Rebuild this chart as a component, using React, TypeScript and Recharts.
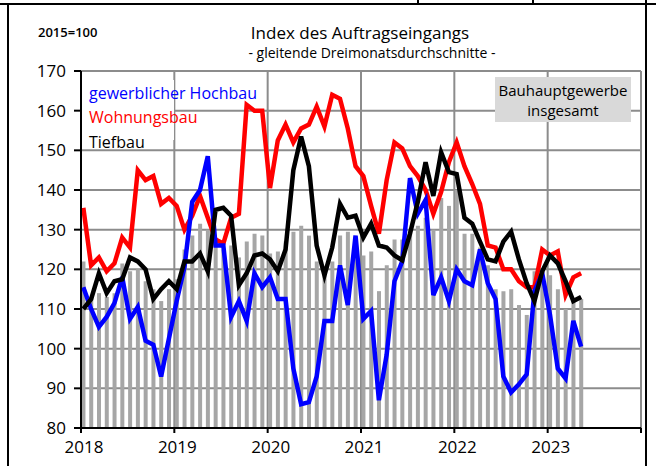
import React from "react";
import {
  ComposedChart,
  Bar,
  Line,
  XAxis,
  YAxis,
  CartesianGrid,
} from "recharts";

// Monatswerte Jan 2018 – Mai 2023, 2015=100
const yearLabels = ["2018", "2019", "2020", "2021", "2022", "2023", ""];

const insgesamt = [
  122, 113, 114, 113, 114, 121.5, 119.5, 120, 117, 115, 112, 115,
  117.5, 125, 128.5, 131.5, 130, 127.5, 125, 126, 123, 127, 129, 128.5,
  124, 124.5, 127, 129.5, 131, 128.5, 122, 120, 122, 128.5, 129.5, 128,
  123.5, 124.5, 114.5, 121, 127.5, 127.5, 130, 131, 133, 130, 138, 136,
  140, 129, 129, 125.5, 121, 115, 114.5, 115, 111, 108.5, 119.5, 120,
  118.5, 115, 110, 112, 112.5,
];

const gewHochbau = [
  115.5, 110, 105.5, 108, 111.5, 118, 107.5, 110.5, 102, 101, 93, 102.5,
  112, 120.5, 137, 140, 148.5, 126, 126, 108, 112, 107, 119, 115.5,
  118, 112.5, 112.5, 95, 86, 86.5, 93, 107, 107, 121, 111, 128.5,
  107.5, 109.5, 87, 98.5, 117, 122, 143, 134, 137.5, 113.5, 118, 112,
  120, 117, 116, 125, 116.5, 112.5, 93, 89, 91, 93.5, 114.5, 119,
  108.5, 95, 92.5, 107, 100.5,
];

const wohnungsbau = [
  135.5, 121, 123, 119.5, 121.5, 128, 125.5, 145, 142.5, 143.5, 136.5, 138,
  136, 130, 133.5, 138.5, 133, 127.5, 126.5, 133, 134, 161.5, 160, 160,
  140.5, 152.5, 156.5, 152, 155.5, 156.5, 161, 156, 164, 163, 155.5, 146,
  143.5, 136, 129, 142.5, 152, 150.5, 146, 143.5, 140, 134, 139.5, 147,
  152, 146, 141.5, 136.5, 126, 125.5, 120, 120, 117, 115.5, 115.5, 125,
  123.5, 124.5, 113.5, 118, 119,
];

const tiefbau = [
  110, 112.5, 119, 114, 117, 117.5, 123, 122, 120, 112.5, 115, 117,
  115, 122, 122, 124, 119.5, 135, 135.5, 133.5, 116, 119, 123.5, 124,
  122.5, 119.5, 125, 145, 153.5, 146, 126, 118.5, 125.5, 136.5, 133, 133.5,
  128, 131.5, 126, 125.5, 123.5, 122.3, 129, 137, 147, 138.5, 149.5, 144.5,
  144, 133, 131.5, 127, 122.5, 122, 127, 129.5, 122.5, 116.5, 112, 119.5,
  123.5, 121.5, 117, 112, 113,
];

const data = insgesamt.map((v, i) => ({
  x: i + 0.3,
  insgesamt: v,
  gewHochbau: gewHochbau[i],
  wohnungsbau: wohnungsbau[i],
  tiefbau: tiefbau[i],
}));

const FONT = "'Open Sans', 'Noto Sans', sans-serif";
const GRID = "#8c8c8c";

export default function App() {
  return (
    <div
      style={{
        position: "absolute",
        left: 0,
        top: 0,
        width: 656,
        height: 466,
        background: "#fff",
        fontFamily: FONT,
        overflow: "hidden",
      }}
    >
      {/* Rahmen */}
      <div style={{ position: "absolute", left: 0, top: 3, width: 656, height: 2, background: "#000" }} />
      <div style={{ position: "absolute", left: 7, top: 3, width: 2, height: 466, background: "#000" }} />
      <div style={{ position: "absolute", left: 417, top: 0, width: 2, height: 5, background: "#000" }} />
      <div style={{ position: "absolute", left: 532, top: 0, width: 2, height: 5, background: "#000" }} />
      <div style={{ position: "absolute", left: 645, top: 0, width: 2, height: 466, background: "#000" }} />

      <ComposedChart
        width={656}
        height={466}
        data={data}
        margin={{ top: 71, right: 15, bottom: 8, left: 21 }}
        barGap={0}
      >
        <CartesianGrid stroke={GRID} strokeWidth={2} />
        <XAxis
          dataKey="x"
          type="number"
          domain={[0, 72]}
          ticks={[0, 12, 24, 36, 48, 60, 72]}
          tickFormatter={(v) => yearLabels[Math.round(v / 12)]}
          height={30}
          axisLine={{ stroke: "#000", strokeWidth: 2 }}
          tickLine={{ stroke: "#000", strokeWidth: 2 }}
          tickSize={5}
          tick={{ fill: "#000", fontSize: 17, fontFamily: FONT, dx: 3, dy: 6 }}
          allowDataOverflow
        />
        <YAxis
          domain={[80, 170]}
          ticks={[80, 90, 100, 110, 120, 130, 140, 150, 160, 170]}
          width={60}
          axisLine={{ stroke: "#000", strokeWidth: 2 }}
          tickLine={{ stroke: "#000", strokeWidth: 2 }}
          tickSize={7}
          tickMargin={8}
          tick={{ fill: "#000", fontSize: 17, fontFamily: FONT }}
        />
        <Bar dataKey="insgesamt" fill="#a6a6a6" barSize={4} isAnimationActive={false} />
        <Line
          dataKey="wohnungsbau"
          stroke="#ff0000"
          strokeWidth={4.5}
          dot={false}
          isAnimationActive={false}
          type="linear"
        />
        <Line
          dataKey="gewHochbau"
          stroke="#0000ff"
          strokeWidth={4.5}
          dot={false}
          isAnimationActive={false}
          type="linear"
        />
        <Line
          dataKey="tiefbau"
          stroke="#000000"
          strokeWidth={4.5}
          dot={false}
          isAnimationActive={false}
          type="linear"
        />
      </ComposedChart>

      {/* Beschriftungen */}
      <div style={{ position: "absolute", left: 38, top: 23, fontSize: 13, fontWeight: 600 }}>2015=100</div>
      <div style={{ position: "absolute", left: 160, width: 400, top: 21, textAlign: "center", fontSize: 17 }}>
        Index des Auftragseingangs
      </div>
      <div style={{ position: "absolute", left: 172, width: 400, top: 43, textAlign: "center", fontSize: 14 }}>
        - gleitende Dreimonatsdurchschnitte -
      </div>

      <div style={{ position: "absolute", left: 82, top: 80, width: 92, height: 60, background: "#fff" }} />
      <div style={{ position: "absolute", left: 89, top: 82, fontSize: 16, color: "#0000ff", whiteSpace: "nowrap" }}>
        gewerblicher Hochbau
      </div>
      <div style={{ position: "absolute", left: 89, top: 106, fontSize: 16, color: "#ff0000" }}>Wohnungsbau</div>
      <div style={{ position: "absolute", left: 89, top: 131, fontSize: 16, color: "#000" }}>Tiefbau</div>

      <div
        style={{
          position: "absolute",
          left: 495,
          top: 77,
          width: 136,
          height: 45,
          background: "#d9d9d9",
          textAlign: "center",
          fontSize: 15,
          lineHeight: "20px",
          paddingTop: 3,
          boxSizing: "border-box",
        }}
      >
        Bauhauptgewerbe
        <br />
        insgesamt
      </div>
    </div>
  );
}
